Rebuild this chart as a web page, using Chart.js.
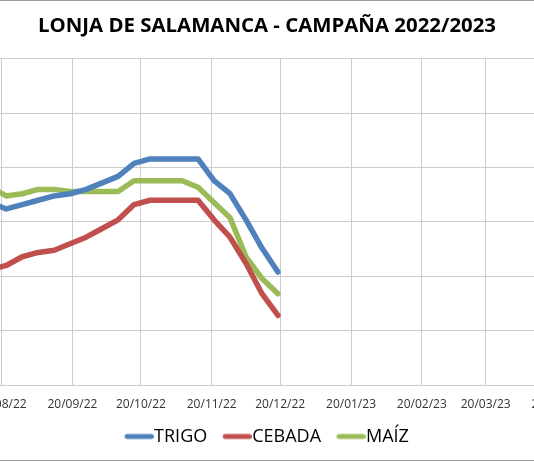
<!DOCTYPE html>
<html>
<head>
<meta charset="utf-8">
<script src="https://cdn.jsdelivr.net/npm/chart.js@4.4.1/dist/chart.umd.min.js"></script>
<style>
  html, body { margin: 0; padding: 0; background: #fff; overflow: hidden; }
  #frame { position: absolute; left: 0; top: 0; width: 534px; height: 459px;
           border-top: 1px solid #9a9a9a; border-bottom: 1px solid #9a9a9a; }
  #c { position: absolute; left: -91px; top: 0; }
</style>
</head>
<body>
<div id="frame"></div>
<canvas id="c" width="716" height="461"></canvas>
<script>
const TITLE = 'LONJA DE SALAMANCA - CAMPAÑA 2022/2023';
const seriesNames = ['TRIGO', 'CEBADA', 'MAÍZ'];
const xRange = ['20/07/22', '20/05/23'];
const xTickLabels = ['20/08/22','20/09/22','20/10/22','20/11/22','20/12/22',
                     '20/01/23','20/02/23','20/03/23','20/04/23'];
const yTicks = [250, 275, 300, 325, 350, 375, 400];
const dates = ['15/08/22','22/08/22','29/08/22','05/09/22','12/09/22','19/09/22','26/09/22',
               '03/10/22','10/10/22','17/10/22','24/10/22','31/10/22','07/11/22','14/11/22',
               '21/11/22','28/11/22','05/12/22','12/12/22','19/12/22'];
const trigo  = [334, 331, 333, 335, 337, 338, 340, 343, 346, 352, 354, 354, 354, 354, 344, 338, 326, 313, 302];
const cebada = [303, 305, 309, 311, 312, 315, 318, 322, 326, 333, 335, 335, 335, 335, 326, 318, 306, 292, 282];
const maiz   = [341, 337, 338, 340, 340, 339, 339, 339, 339, 344, 344, 344, 344, 341, 334, 327, 309, 299, 292];
const colors = ['#4F81BD', '#C0504D', '#9BBB59'];

function dayNum(s) {
  const [d, m, y] = s.split('/').map(Number);
  return Date.UTC(2000 + y, m - 1, d) / 86400000;
}
const tickVals = xTickLabels.map(dayNum);
const xs = dates.map(dayNum);

function legendLine(color) {
  const c = document.createElement('canvas');
  c.width = 37; c.height = 8;
  const g = c.getContext('2d');
  g.strokeStyle = color; g.lineWidth = 5; g.lineCap = 'round';
  g.beginPath(); g.moveTo(10.5, 4); g.lineTo(34.5, 4); g.stroke();
  return c;
}
const legendImgs = colors.map(legendLine);

const mk = (name, vals, color) => ({
  label: name,
  data: vals.map((v, i) => ({ x: xs[i], y: v })),
  borderColor: color,
  backgroundColor: color,
  borderWidth: 5.5,
  pointRadius: 0,
  tension: 0,
  borderJoinStyle: 'round',
  borderCapStyle: 'round',
  fill: false
});

const GRID = '#cccccc';
const FONT = 'Open Sans';

new Chart(document.getElementById('c'), {
  type: 'line',
  data: {
    datasets: [
      mk(seriesNames[0], trigo, colors[0]),
      mk(seriesNames[1], cebada, colors[1]),
      mk(seriesNames[2], maiz, colors[2])
    ]
  },
  options: {
    responsive: false,
    animation: false,
    events: [],
    layout: { padding: { left: 0, right: 0, top: 0, bottom: 5.5 } },
    plugins: {
      tooltip: { enabled: false },
      title: {
        display: true, text: TITLE, color: '#000',
        font: { family: FONT, size: 20.4, weight: 'bold' },
        padding: { top: 14, bottom: 20.5 }
      },
      legend: {
        position: 'bottom',
        labels: {
          usePointStyle: true, pointStyleWidth: 20, padding: 16, color: '#000',
          font: { family: FONT, size: 18 },
          generateLabels(chart) {
            const items = Chart.defaults.plugins.legend.labels.generateLabels(chart);
            items.forEach((it, i) => { it.pointStyle = legendImgs[i]; });
            return items;
          }
        }
      }
    },
    scales: {
      x: {
        type: 'linear',
        min: dayNum(xRange[0]), max: dayNum(xRange[1]),
        afterBuildTicks(s) { s.ticks = tickVals.map(v => ({ value: v })); },
        afterFit(s) { s.height = 26.5; },
        ticks: {
          autoSkip: false, maxRotation: 0, minRotation: 0, padding: 12,
          color: '#333', font: { family: FONT, size: 12 },
          callback(v, i) { return xTickLabels[i]; }
        },
        grid: { color: GRID, lineWidth: 1, drawTicks: false },
        border: { color: GRID }
      },
      y: {
        min: yTicks[0], max: yTicks[yTicks.length - 1],
        afterFit(s) { s.width = 21.9; },
        ticks: { stepSize: yTicks[1] - yTicks[0], display: false },
        grid: { color: GRID, lineWidth: 1, drawTicks: false },
        border: { color: GRID }
      }
    }
  }
});
</script>
</body>
</html>
